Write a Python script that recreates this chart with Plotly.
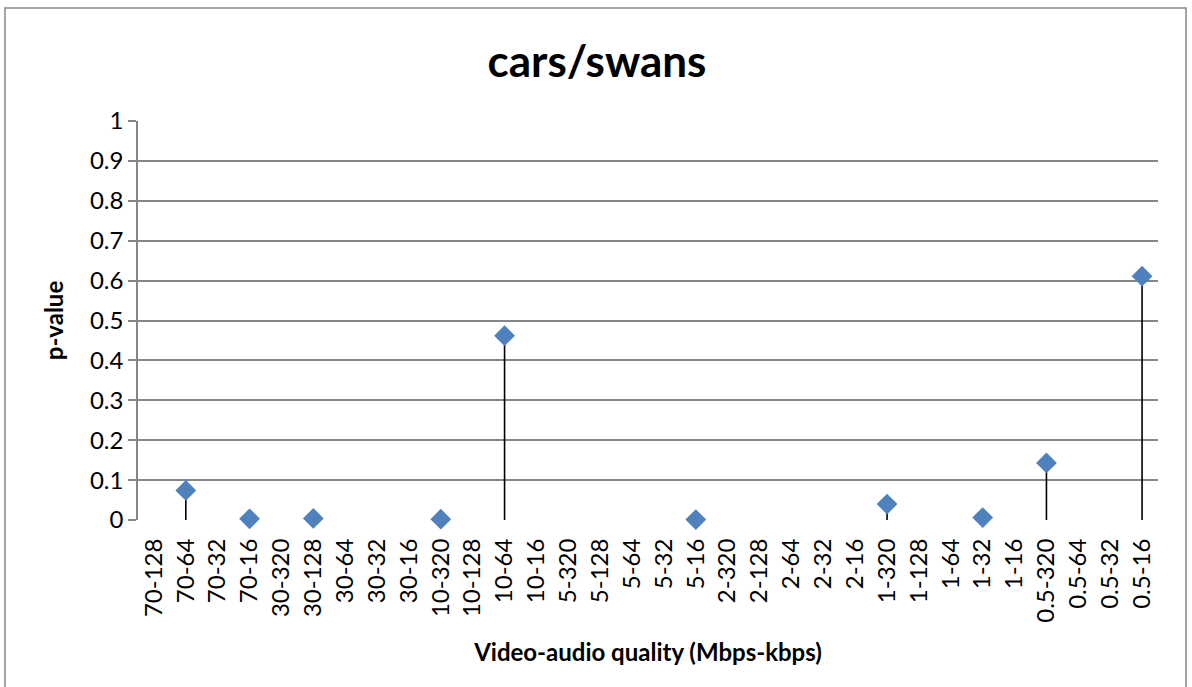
import plotly.graph_objects as go

categories = ["70-128", "70-64", "70-32", "70-16", "30-320", "30-128", "30-64", "30-32", "30-16",
              "10-320", "10-128", "10-64", "10-16", "5-320", "5-128", "5-64", "5-32", "5-16",
              "2-320", "2-128", "2-64", "2-32", "2-16", "1-320", "1-128", "1-64", "1-32", "1-16",
              "0.5-320", "0.5-64", "0.5-32", "0.5-16"]
point_categories = ["70-64", "70-16", "30-128", "10-320", "10-64", "5-16", "1-320", "1-32", "0.5-320", "0.5-16"]
p_values = [0.074, 0.003, 0.004, 0.002, 0.462, 0.001, 0.040, 0.006, 0.143, 0.611]
y_ticks = [0, 0.1, 0.2, 0.3, 0.4, 0.5, 0.6, 0.7, 0.8, 0.9, 1]

FONT = "Lato, Carlito, Calibri, sans-serif"
W, H = 1192, 687
ml, mr, mt, mb = 138, 34, 121, 167
pw, ph = W - ml - mr, H - mt - mb

fig = go.Figure()
fig.add_trace(go.Scatter(
    x=point_categories, y=p_values, mode="markers",
    marker=dict(symbol="diamond", size=16, color="#4F81BD", line=dict(width=0)),
    error_y=dict(type="data", symmetric=False, array=[0] * len(p_values),
                 arrayminus=p_values, color="black", thickness=1.6, width=0),
    showlegend=False, cliponaxis=False, hoverinfo="skip",
))

# outer chart border
fig.add_shape(type="rect", xref="paper", yref="paper",
              x0=(5 - ml) / pw, x1=(1186 - ml) / pw,
              y0=(mt + ph - 700) / ph, y1=(mt + ph - 8) / ph,
              line=dict(color="#888888", width=1.5), fillcolor="rgba(0,0,0,0)", layer="below")

fig.update_layout(
    width=W, height=H,
    margin=dict(l=ml, r=mr, t=mt, b=mb),
    paper_bgcolor="white", plot_bgcolor="white",
    font=dict(family=FONT, color="black", size=24),
    title=dict(text="<b>cars/swans</b>", x=(597 - ml) / pw, xanchor="center", y=1 - 62 / H, yanchor="middle",
               xref="paper", font=dict(size=44, family=FONT)),
    xaxis=dict(type="category", categoryorder="array", categoryarray=categories,
               tickmode="array", tickvals=categories, ticktext=categories,
               range=[-0.5, len(categories) - 0.5], tickangle=-90,
               showgrid=False, showline=False, ticks="outside", ticklen=8,
               tickcolor="rgba(0,0,0,0)", zeroline=False,
               tickfont=dict(size=24),
               title=dict(text="<b>Video-audio quality (Mbps-kbps)</b>", font=dict(size=24), standoff=22)),
    yaxis=dict(range=[0, 1], tickmode="array", tickvals=y_ticks,
               ticktext=[("%g" % v) for v in y_ticks],
               showgrid=True, gridcolor="#868686", gridwidth=1.5,
               showline=True, linecolor="#868686", linewidth=1.5,
               ticks="outside", ticklen=8, tickcolor="#868686", tickwidth=1.5,
               zeroline=False, tickfont=dict(size=24),
               title=dict(text="<b>p-value</b>", font=dict(size=24), standoff=20)),
)

fig.write_html("out.html", post_script="document.body.style.margin='0';",
               config={"displayModeBar": False})
